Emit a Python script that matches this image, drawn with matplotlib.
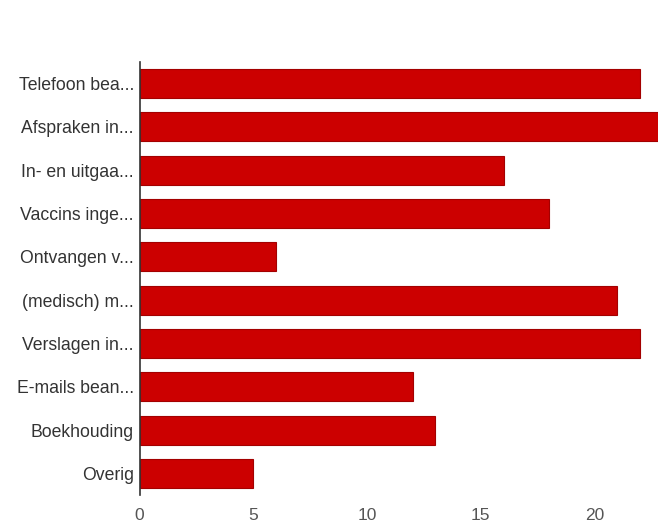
import matplotlib
matplotlib.use("Agg")
import matplotlib.pyplot as plt

categories = [
    "Telefoon bea...",
    "Afspraken in...",
    "In- en uitgaa...",
    "Vaccins inge...",
    "Ontvangen v...",
    "(medisch) m...",
    "Verslagen in...",
    "E-mails bean...",
    "Boekhouding",
    "Overig",
]
counts = [22, 23, 16, 18, 6, 21, 22, 12, 13, 5]
x_ticks = [0, 5, 10, 15, 20]

plt.rcParams["font.family"] = ["Liberation Sans", "DejaVu Sans"]

W, H = 658, 527
x0_px, px_per_unit = 139.5, 22.75

fig = plt.figure(figsize=(W / 100, H / 100), dpi=100)
ax = fig.add_axes([x0_px / W, 1 - 495 / H, 1 - x0_px / W, (495 - 62) / H])

y = list(range(len(categories)))
ax.barh(y, counts, height=0.67, color="#cc0000", edgecolor="#a30000", linewidth=0.8)

ax.set_ylim(len(categories) - 0.5, -0.5)
ax.set_xlim(0, (W - x0_px) / px_per_unit)

ax.set_yticks(y)
ax.set_yticklabels(categories, fontsize=12.7, color="#333333")
ax.set_xticks(x_ticks)
ax.set_xticklabels([str(t) for t in x_ticks], fontsize=12.5, color="#555555")

ax.tick_params(axis="y", length=0, pad=4)
ax.tick_params(axis="x", length=0, pad=9)

for side in ("top", "right", "bottom"):
    ax.spines[side].set_visible(False)
ax.spines["left"].set_color("#333333")
ax.spines["left"].set_linewidth(1.2)

fig.savefig("out.png", dpi=100)
